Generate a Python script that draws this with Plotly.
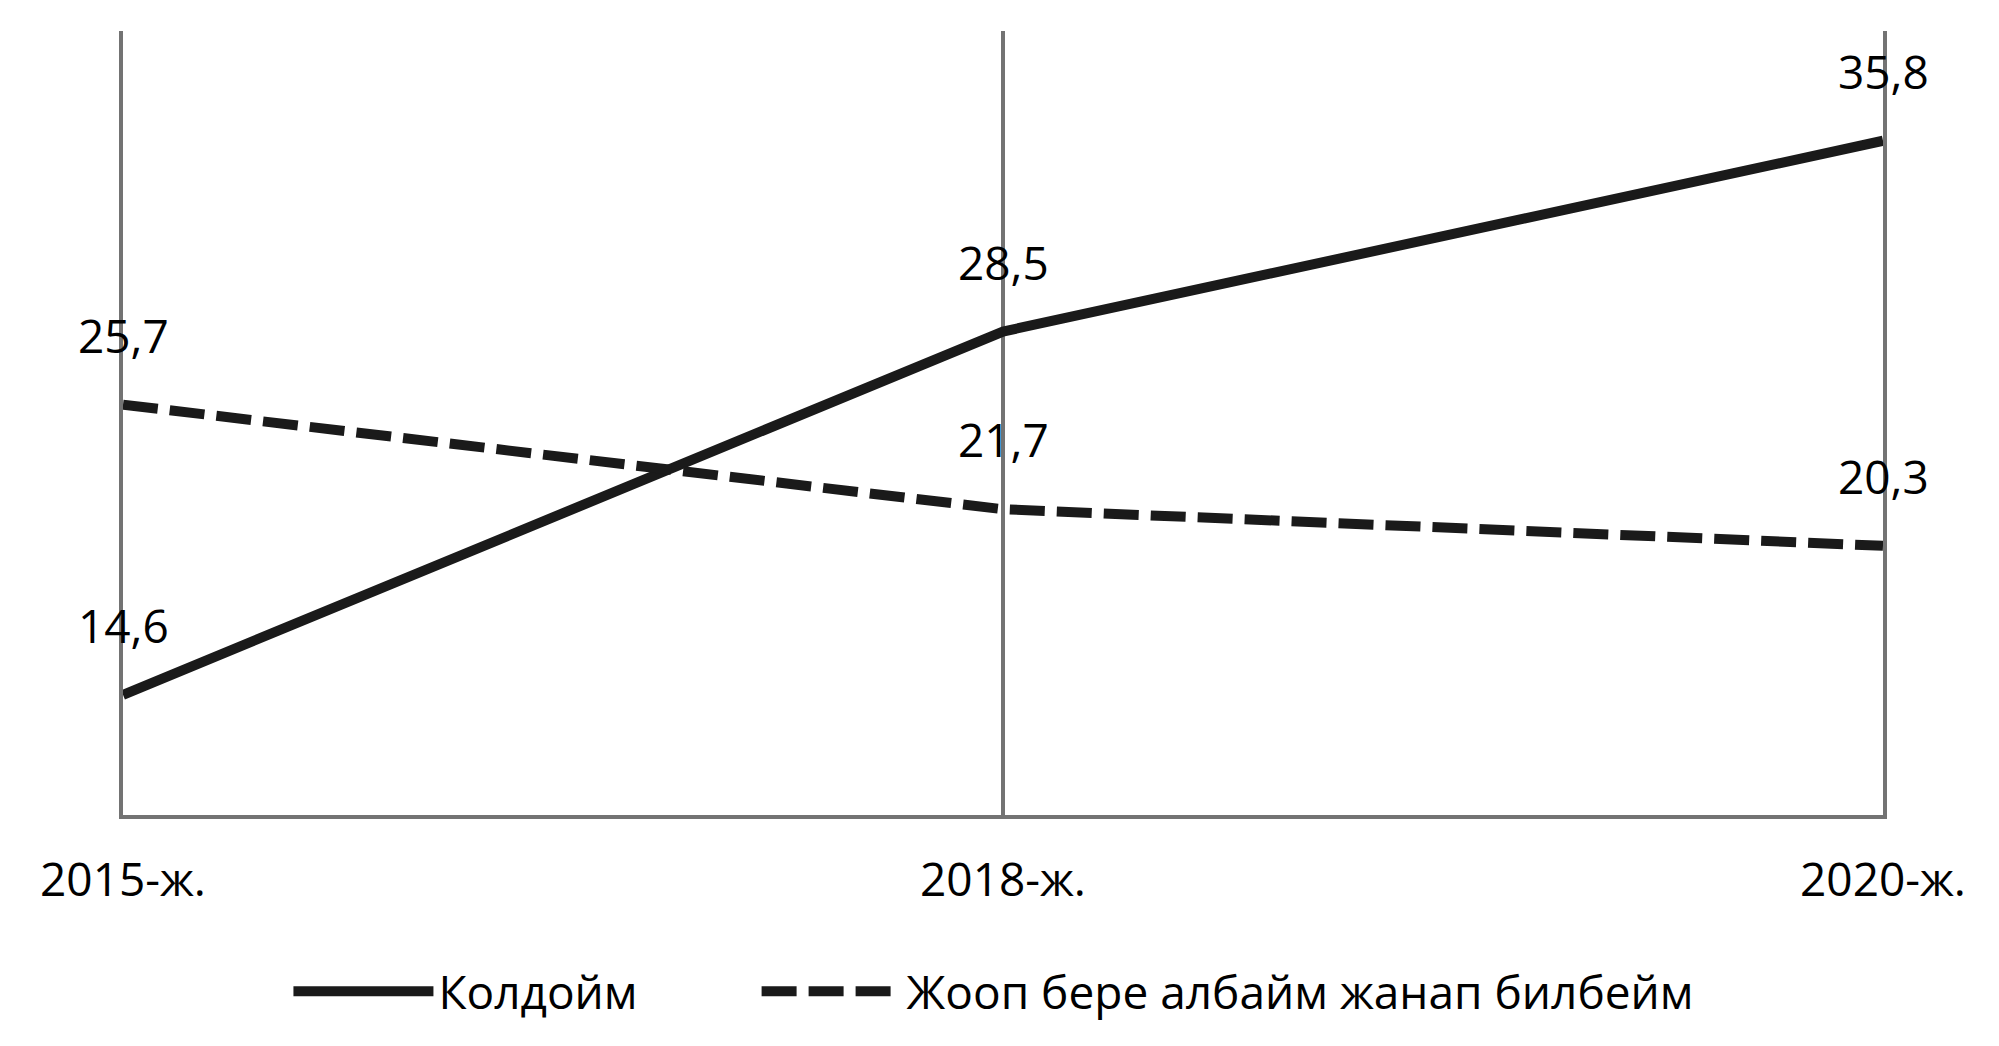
import plotly.graph_objects as go

categories = ["2015-ж.", "2018-ж.", "2020-ж."]
koldoim = [14.6, 28.5, 35.8]
jooop = [25.7, 21.7, 20.3]
series_names = ["Колдойм", "Жооп бере албайм жанап билбейм"]

FONT = "Open Sans"
LINE_COLOR = "#1a1a1a"
AXIS_COLOR = "#737373"

def fmt(v):
    return f"{v:.1f}".replace(".", ",")

fig = go.Figure()
fig.add_trace(go.Scatter(
    x=categories, y=koldoim, mode="lines", name=series_names[0],
    line=dict(color=LINE_COLOR, width=10), legend="legend",
))
fig.add_trace(go.Scatter(
    x=categories, y=jooop, mode="lines", name=series_names[1],
    line=dict(color=LINE_COLOR, width=10, dash="35px,12px"), legend="legend2",
))

annotations = []
for series in (koldoim, jooop):
    for c, v in zip(categories, series):
        annotations.append(dict(
            x=c, y=v, xref="x", yref="y", text=fmt(v), showarrow=False,
            yshift=70, font=dict(family=FONT, size=46, color="#000000"),
        ))

legend_common = dict(
    orientation="h", xanchor="left", y=-0.225, yanchor="middle",
    font=dict(family=FONT, size=46, color="#000000"),
    itemwidth=140, bgcolor="rgba(0,0,0,0)",
)

fig.update_layout(
    width=1999, height=1046,
    margin=dict(l=123, r=116, t=31, b=231, autoexpand=False),
    paper_bgcolor="white", plot_bgcolor="white",
    font=dict(family=FONT, size=46, color="#000000"),
    showlegend=True,
    legend=dict(x=0.094, **legend_common),
    legend2=dict(x=0.360, **legend_common),
    annotations=annotations,
    xaxis=dict(
        type="category", range=[0, 2], automargin=False,
        showgrid=True, gridcolor=AXIS_COLOR, gridwidth=4,
        showline=True, linecolor=AXIS_COLOR, linewidth=4,
        ticks="outside", ticklen=22, tickcolor="rgba(0,0,0,0)",
        tickfont=dict(family=FONT, size=46, color="#000000"),
        zeroline=False,
    ),
    yaxis=dict(
        range=[10, 40], showgrid=False, showticklabels=False, automargin=False,
        showline=True, mirror=True, linecolor=AXIS_COLOR, linewidth=4,
        zeroline=False, ticks="",
    ),
)

fig.write_html("out.html", config={"displayModeBar": False},
               post_script="document.body.style.margin='0';")
